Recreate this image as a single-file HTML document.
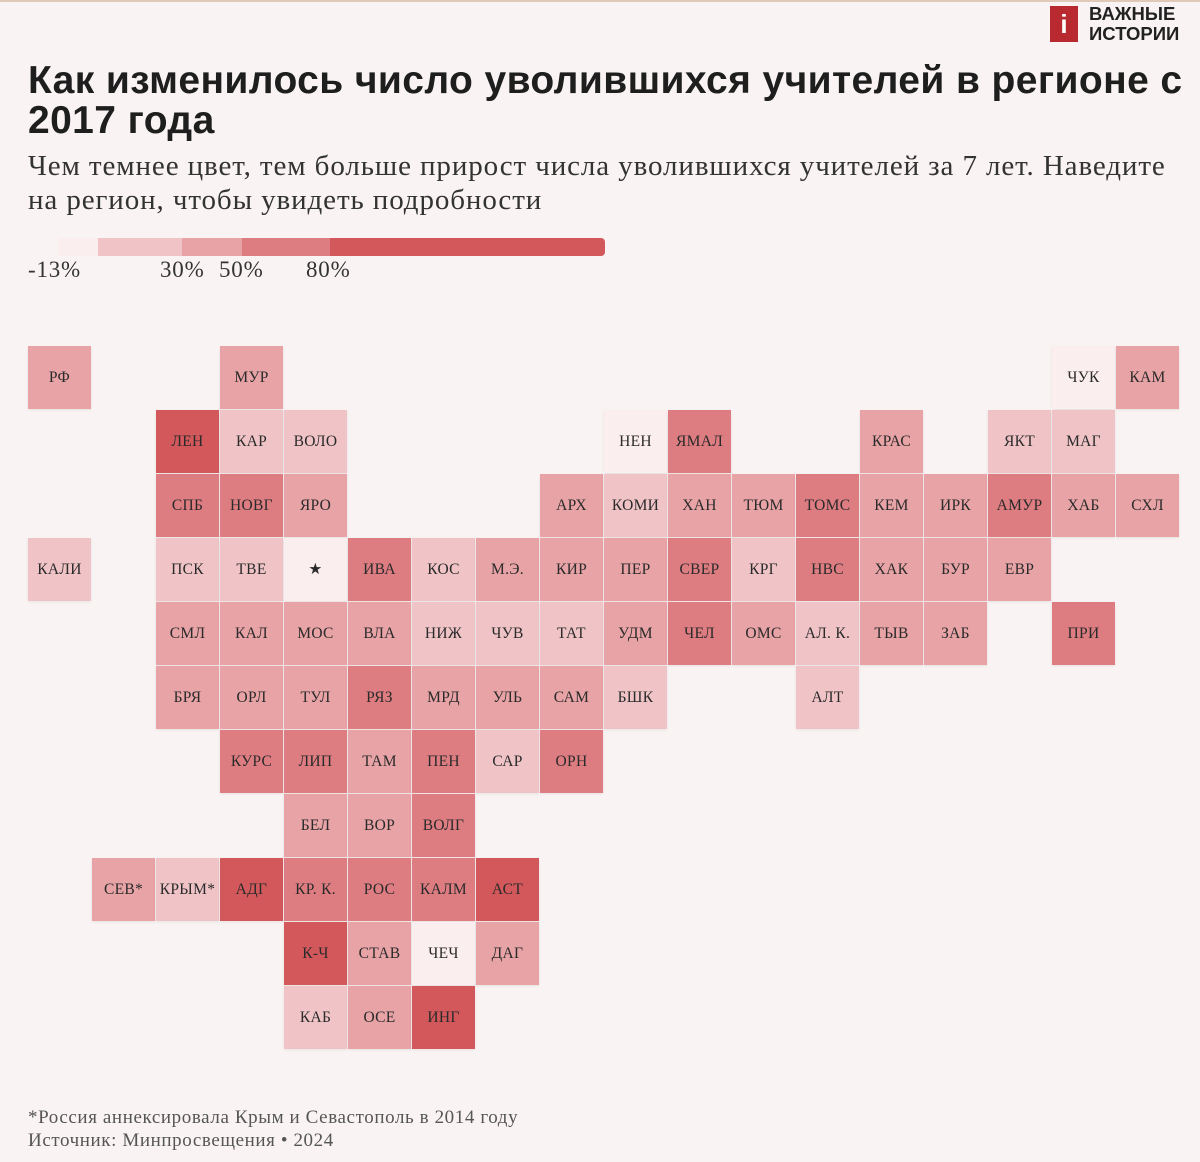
<!DOCTYPE html>
<html><head><meta charset="utf-8"><style>
body{margin:0;width:1200px;height:1162px;background:#f9f4f3;position:relative;overflow:hidden;font-family:"Liberation Serif",serif;color:#222}
.top{position:absolute;left:0;top:0;width:1200px;height:2px;background:#e0c9b8}
h1{position:absolute;left:28px;top:61px;margin:0;font:bold 39px/40px "Liberation Sans",sans-serif;letter-spacing:0.4px;color:#1e1e1e;width:1172px}
.sub{position:absolute;left:28px;top:149px;font-size:29px;line-height:34px;letter-spacing:0.9px;color:#333;width:1172px}
.leg{position:absolute;top:238px;height:18px}
.lab{position:absolute;top:257px;font-size:23px;letter-spacing:0.8px;color:#333}
.c{position:absolute;width:63px;height:63px;display:flex;align-items:center;justify-content:center;font-size:15.5px;letter-spacing:0.3px;color:#2a2a2a;box-shadow:0 1px 3px rgba(0,0,0,0.08)}
.l0{background:#fbeeee}.l1{background:#f0c4c7}.l2{background:#e8a3a6}.l3{background:#de7d81}.l4{background:#d2585b}
.foot{position:absolute;left:28px;font-size:19px;letter-spacing:0.6px;color:#555}
.logo{position:absolute;left:1050px;top:6px;width:28px;height:36px;background:#b82a30;color:#fff;font:bold 26px/36px "Liberation Sans",sans-serif;text-align:center}
.logot{position:absolute;left:1089px;top:4px;font:bold 18.5px/20px "Liberation Sans",sans-serif;color:#222}
</style></head><body>
<div class="top"></div>
<div class="logo">i</div><div class="logot">ВАЖНЫЕ<br>ИСТОРИИ</div>
<h1>Как изменилось число уволившихся учителей в регионе с 2017 года</h1>
<div class="sub">Чем темнее цвет, тем больше прирост числа уволившихся учителей за 7 лет. Наведите на регион, чтобы увидеть подробности</div>
<div class="leg l0" style="left:58px;width:40px"></div>
<div class="leg l1" style="left:98px;width:84px"></div>
<div class="leg l2" style="left:182px;width:60px"></div>
<div class="leg l3" style="left:242px;width:88px"></div>
<div class="leg l4" style="left:330px;width:275px;border-radius:0 4px 4px 0"></div>
<div class="lab" style="left:28px">-13%</div>
<div class="lab" style="left:160px">30%</div>
<div class="lab" style="left:219px">50%</div>
<div class="lab" style="left:306px">80%</div>
<div id="g"></div>
<div class="foot" style="top:1107px">*Россия аннексировала Крым и Севастополь в 2014 году</div>
<div class="foot" style="top:1130px">Источник: Минпросвещения • 2024</div>
<script>
var d=[
[0,[[0,'РФ',2],[3,'МУР',2],[16,'ЧУК',0],[17,'КАМ',2]]],
[1,[[2,'ЛЕН',4],[3,'КАР',1],[4,'ВОЛО',1],[9,'НЕН',0],[10,'ЯМАЛ',3],[13,'КРАС',2],[15,'ЯКТ',1],[16,'МАГ',1]]],
[2,[[2,'СПБ',3],[3,'НОВГ',3],[4,'ЯРО',2],[8,'АРХ',2],[9,'КОМИ',1],[10,'ХАН',2],[11,'ТЮМ',2],[12,'ТОМС',3],[13,'КЕМ',2],[14,'ИРК',2],[15,'АМУР',3],[16,'ХАБ',2],[17,'СХЛ',2]]],
[3,[[0,'КАЛИ',1],[2,'ПСК',1],[3,'ТВЕ',1],[4,'★',0],[5,'ИВА',3],[6,'КОС',1],[7,'М.Э.',2],[8,'КИР',2],[9,'ПЕР',2],[10,'СВЕР',3],[11,'КРГ',1],[12,'НВС',3],[13,'ХАК',2],[14,'БУР',2],[15,'ЕВР',2]]],
[4,[[2,'СМЛ',2],[3,'КАЛ',2],[4,'МОС',2],[5,'ВЛА',2],[6,'НИЖ',1],[7,'ЧУВ',1],[8,'ТАТ',1],[9,'УДМ',2],[10,'ЧЕЛ',3],[11,'ОМС',2],[12,'АЛ. К.',1],[13,'ТЫВ',2],[14,'ЗАБ',2],[16,'ПРИ',3]]],
[5,[[2,'БРЯ',2],[3,'ОРЛ',2],[4,'ТУЛ',2],[5,'РЯЗ',3],[6,'МРД',2],[7,'УЛЬ',2],[8,'САМ',2],[9,'БШК',1],[12,'АЛТ',1]]],
[6,[[3,'КУРС',3],[4,'ЛИП',3],[5,'ТАМ',2],[6,'ПЕН',3],[7,'САР',1],[8,'ОРН',3]]],
[7,[[4,'БЕЛ',2],[5,'ВОР',2],[6,'ВОЛГ',3]]],
[8,[[1,'СЕВ*',2],[2,'КРЫМ*',1],[3,'АДГ',4],[4,'КР. К.',3],[5,'РОС',3],[6,'КАЛМ',3],[7,'АСТ',4]]],
[9,[[4,'К-Ч',4],[5,'СТАВ',2],[6,'ЧЕЧ',0],[7,'ДАГ',2]]],
[10,[[4,'КАБ',1],[5,'ОСЕ',2],[6,'ИНГ',4]]]];
var h='';d.forEach(function(r){r[1].forEach(function(c){h+='<div class="c l'+c[2]+'" style="left:'+(28+64*c[0])+'px;top:'+(346+64*r[0])+'px">'+c[1]+'</div>';});});
document.getElementById('g').innerHTML=h;
</script>
</body></html>
